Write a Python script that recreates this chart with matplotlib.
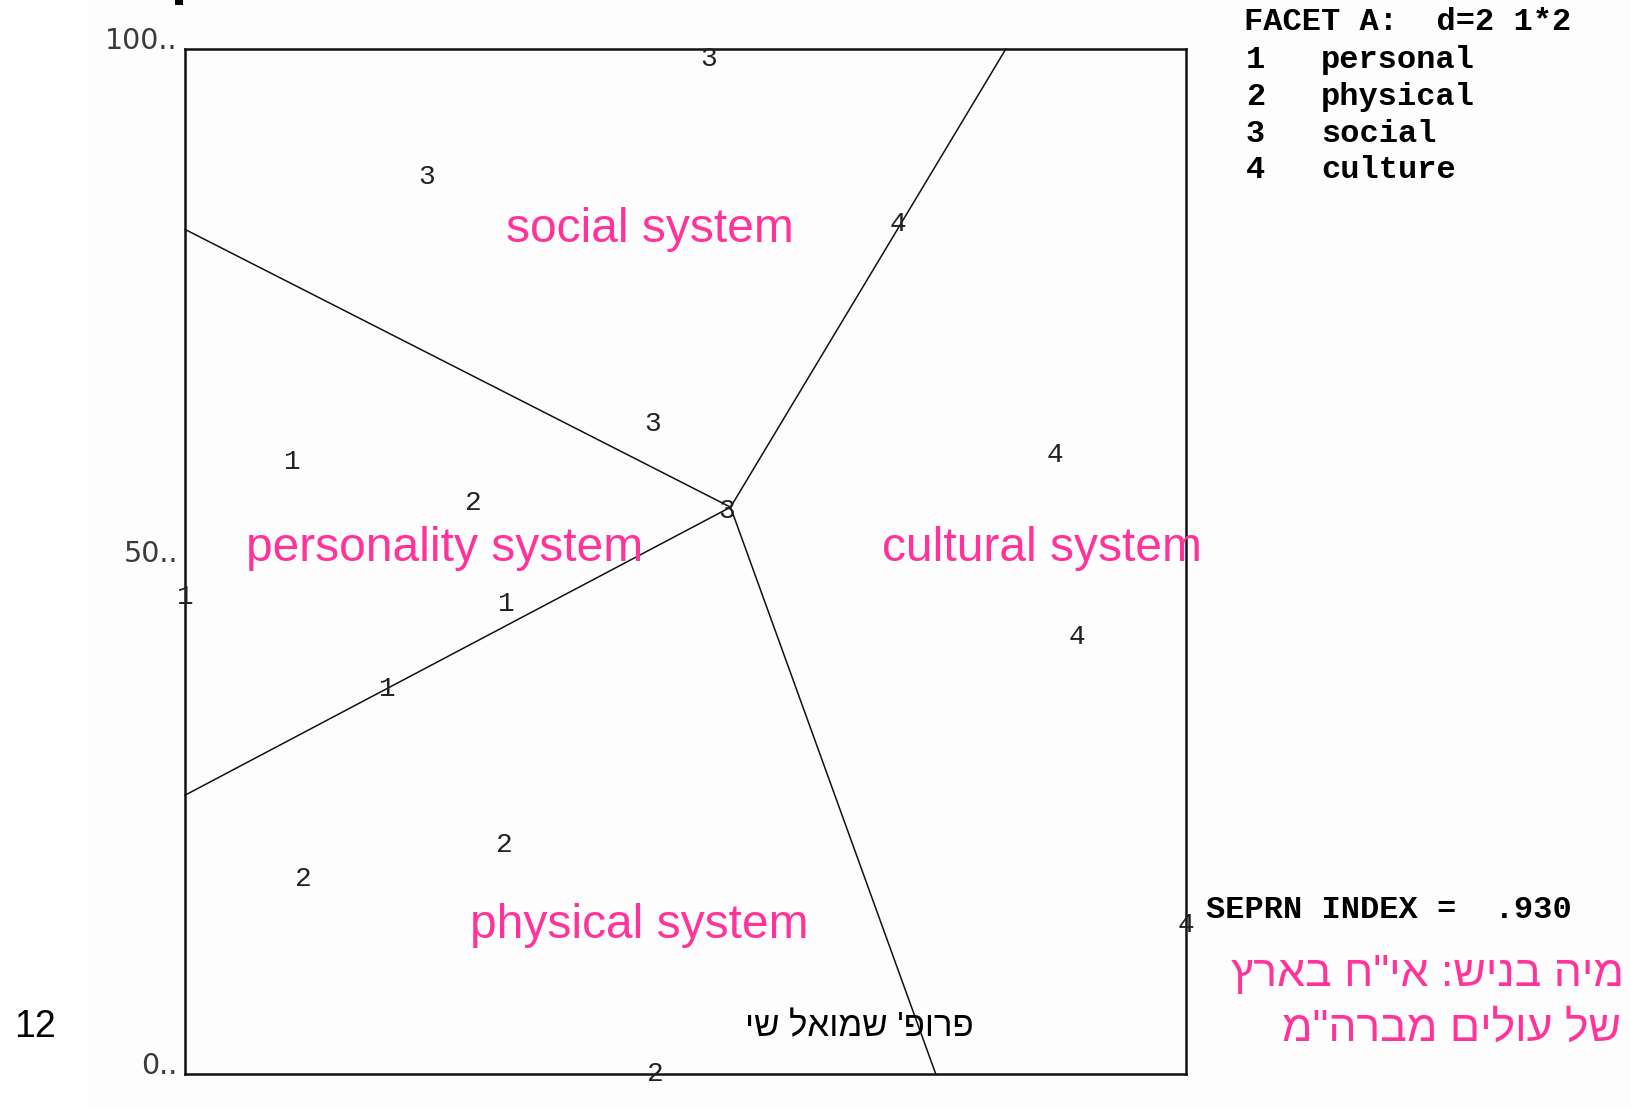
import matplotlib as mpl
mpl.use('Agg')
import matplotlib.pyplot as plt
from matplotlib.patches import Rectangle

# facet elements: label and (x, y) position on the 0..100 plane
point_labels = ['3', '3', '4', '3', '1', '4', '2', '3', '1', '1', '4', '1', '2', '2', '4', '2']
point_x = [52.3, 24.1, 71.2, 46.7, 10.7, 86.9, 28.8, 54.1, 0.0, 32.1, 89.1, 20.2, 31.9, 11.8, 100.0, 47.0]
point_y = [99.0, 87.5, 82.9, 63.4, 59.7, 60.4, 55.7, 54.9, 46.5, 45.9, 42.6, 37.6, 22.3, 19.0, 14.5, 0.0]

# partition lines radiating from the centre
centre = (54.5, 55.3)
line_ends_x = [0.0, 82.0, 0.0, 75.0]
line_ends_y = [82.4, 100.0, 27.2, 0.0]

region_names = ['social system', 'personality system', 'cultural system', 'physical system']
region_x = [46.4, 25.9, 85.6, 45.4]
region_y = [82.4, 51.3, 51.3, 14.5]

tick_values = [100, 50, 0]
tick_labels = ['100..', '50..', '0..']

legend_title = 'FACET A:  d=2 1*2'
legend_codes = ['1', '2', '3', '4']
legend_names = ['personal', 'physical', 'social', 'culture']
seprn_text = 'SEPRN INDEX =  .930'

hebrew_lines = ['מיה בניש: אי"ח בארץ', 'של עולים מברה"מ']
author = "פרופ' שמואל שי"
page_no = '12'

MAGENTA = '#ff3399'
MONO = ['Liberation Mono', 'DejaVu Sans Mono']
SANS = ['Liberation Sans', 'DejaVu Sans']


def rtl(s):
    # matplotlib has no bidi support, lay the Hebrew out right to left by hand
    return s[::-1]


fig = plt.figure(figsize=(16.30, 11.07), dpi=100)
fig.patches.append(Rectangle((87 / 1630, 0), 1 - 87 / 1630, 1, transform=fig.transFigure,
                             facecolor='#fdfdfd', edgecolor='none', zorder=-10))
fig.patches.append(Rectangle((175 / 1630, 1 - 5 / 1107), 8 / 1630, 5 / 1107, transform=fig.transFigure,
                             facecolor='black', edgecolor='none'))

ax = fig.add_axes([185 / 1630, 33 / 1107, 1001 / 1630, 1025 / 1107])
ax.set_facecolor('#fdfdfd')
ax.set_xlim(0, 100)
ax.set_ylim(0, 100)
ax.set_xticks([])
ax.set_yticks([])
for sp in ax.spines.values():
    sp.set_linewidth(1.8)
    sp.set_color('#111111')

for ex, ey in zip(line_ends_x, line_ends_y):
    ax.plot([centre[0], ex], [centre[1], ey], color='#111111', linewidth=1.1, clip_on=False)

for lab, x, y in zip(point_labels, point_x, point_y):
    ax.text(x, y, lab, ha='center', va='center', fontsize=20, color='#222222',
            family=MONO, clip_on=False)

for name, x, y in zip(region_names, region_x, region_y):
    ax.text(x, y, name, ha='center', va='center', fontsize=34.5, color=MAGENTA, family=SANS)

trans = ax.get_yaxis_transform()
for v, lab in zip(tick_values, tick_labels):
    ax.text(-0.007, v, lab, transform=trans, ha='right', va='baseline',
            fontsize=20.5, color='#3a3a3a', family=['DejaVu Sans'])

# legend block on the right
fig.text(1244 / 1630, 1 - 22 / 1107, legend_title, ha='left', va='center', fontsize=23,
         fontweight='bold', family=MONO)
row_y = [60, 97, 134, 170]
for code, name, ry in zip(legend_codes, legend_names, row_y):
    fig.text(1246 / 1630, 1 - ry / 1107, code, ha='left', va='center', fontsize=23,
             fontweight='bold', family=MONO)
    fig.text(1321 / 1630, 1 - ry / 1107, name, ha='left', va='center', fontsize=23,
             fontweight='bold', family=MONO)

fig.text(1206 / 1630, 1 - 910 / 1107, seprn_text, ha='left', va='center', fontsize=23,
         fontweight='bold', family=MONO)

fig.text(1624 / 1630, 1 - 975 / 1107, rtl(hebrew_lines[0]), ha='right', va='center',
         fontsize=32, color=MAGENTA, family=SANS)
fig.text(1621 / 1630, 1 - 1029 / 1107, rtl(hebrew_lines[1]), ha='right', va='center',
         fontsize=32, color=MAGENTA, family=SANS)

fig.text(859 / 1630, 1 - 1027 / 1107, rtl(author), ha='center', va='center',
         fontsize=25, color='black', family=SANS)
fig.text(35 / 1630, 1 - 1027 / 1107, page_no, ha='center', va='center',
         fontsize=27, color='black', family=SANS)

fig.savefig('out.png', dpi=100, facecolor='white')
